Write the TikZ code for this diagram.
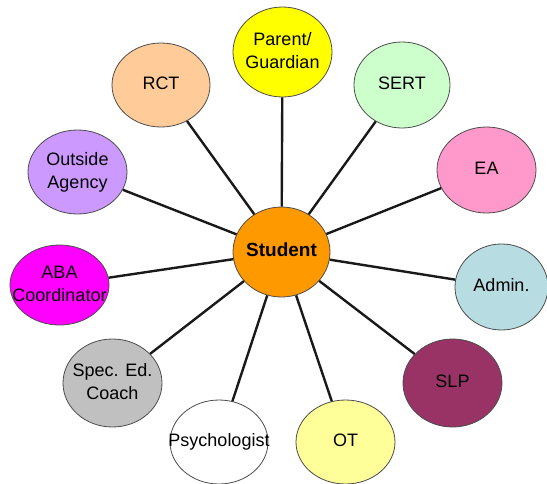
\documentclass[tikz,border=0pt]{standalone}
\usepackage{fontspec}
\setmainfont{Liberation Sans}
\usetikzlibrary{shapes.geometric}
\definecolor{cstud}{HTML}{FF9900}
\definecolor{cpar}{HTML}{FFFF00}
\definecolor{crct}{HTML}{FFCC99}
\definecolor{csert}{HTML}{CCFFCC}
\definecolor{cea}{HTML}{FF99CC}
\definecolor{cadm}{HTML}{B7DDE3}
\definecolor{cslp}{HTML}{993366}
\definecolor{cot}{HTML}{FFFF99}
\definecolor{cpsy}{HTML}{FFFFFF}
\definecolor{cspec}{HTML}{C0C0C0}
\definecolor{caba}{HTML}{FF00FF}
\definecolor{cout}{HTML}{CC99FF}
\newcommand{\zwtext}[1]{\makebox[0pt][c]{\begin{tabular}{@{}c@{}}#1\end{tabular}}}
\begin{document}
\begin{tikzpicture}[x=1pt,y=-1pt,
  bub/.style={ellipse, draw=black!70, line width=0.8pt, inner sep=0pt,
    minimum width=99, minimum height=86, font=\fontsize{18}{23}\selectfont},
  link/.style={line width=2.4pt, black!90}]
\useasboundingbox (0,0) rectangle (547,483);
\node[bub, fill=cstud, minimum width=97, minimum height=90, font=\fontsize{19}{22}\selectfont\bfseries] (s) at (281.5,252) {\zwtext{Student}};
\node[bub, fill=cpar, minimum height=90] (par) at (282.5,52) {\zwtext{Parent/\\Guardian}};
\node[bub, fill=crct, minimum width=98, minimum height=84] (rct) at (161,85) {\zwtext{RCT}};
\node[bub, fill=csert, minimum width=96] (sert) at (402,85) {\zwtext{SERT}};
\node[bub, fill=cea] (ea) at (486.5,170) {\zwtext{EA}};
\node[bub, fill=cout, minimum width=99, minimum height=84] (out) at (77.5,172) {\zwtext{Outside\\Agency}};
\node[bub, fill=caba, minimum height=80] (aba) at (59.5,285) {\zwtext{ABA\\Coordinator}};
\node[bub, fill=cadm, minimum width=93] (adm) at (501.5,287) {\zwtext{Admin.}};
\node[bub, fill=cslp, minimum height=88] (slp) at (452.5,383) {\zwtext{SLP}};
\node[bub, fill=cot, minimum height=84] (ot) at (345.5,442) {\zwtext{OT}};
\node[bub, fill=cpsy, minimum width=98, minimum height=84] (psy) at (219,442) {\zwtext{Psychologist}};
\node[bub, fill=cspec, minimum height=88] (spec) at (112.5,383) {\zwtext{Spec. Ed.\\Coach}};
\foreach \n in {par,rct,sert,ea,out,aba,adm,slp,ot,psy,spec}
  \draw[link] (s) -- (\n);
\end{tikzpicture}
\end{document}
